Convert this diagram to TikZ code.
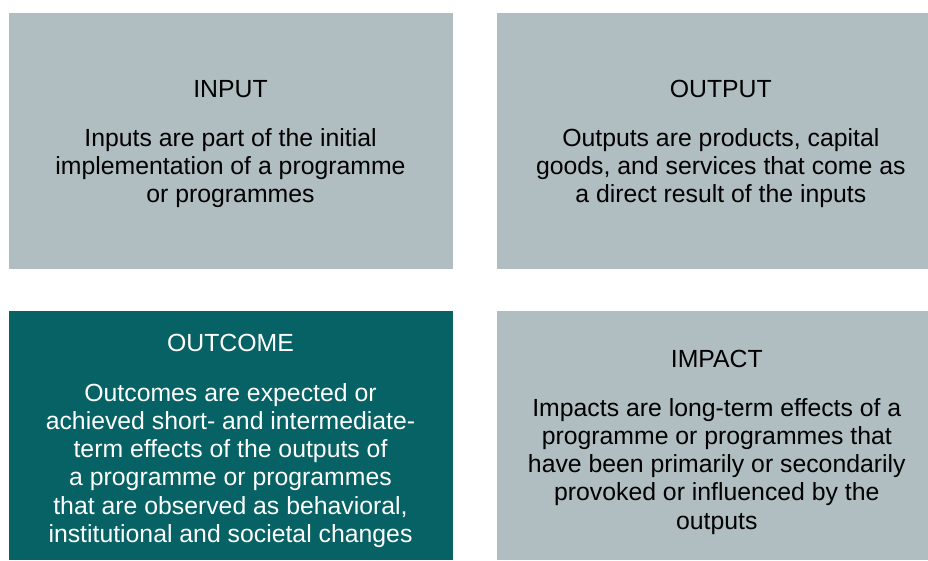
\documentclass[tikz,border=0pt]{standalone}
\usepackage{fontspec}
\setmainfont{Liberation Sans}
\definecolor{boxgray}{RGB}{176,189,193}
\definecolor{boxteal}{RGB}{6,98,100}
\begin{document}
\begin{tikzpicture}[x=1pt,y=-1pt,
  panel/.style={rectangle, draw=none, inner sep=0pt, outer sep=0pt, fill=boxgray},
  title/.style={anchor=base, inner sep=0pt, font=\fontsize{24.8}{28.2}\selectfont},
  body/.style={anchor=north, inner sep=0pt, align=center, font=\fontsize{24.8}{28.2}\selectfont}]
\useasboundingbox (0,0) rectangle (928,560);
% panels
\node[panel, minimum width=444pt, minimum height=256pt] (inbox) at (231,141) {};
\node[panel, minimum width=431pt, minimum height=256pt] (outbox) at (712.5,141) {};
\node[panel, fill=boxteal, minimum width=444pt, minimum height=249pt] (ocbox) at (231,435.5) {};
\node[panel, minimum width=431pt, minimum height=249pt] (imbox) at (712.5,435.5) {};
% INPUT
\node[title] (int) at (230.5,97.8) {INPUT};
\node[body] (inb) at (230.5,126.5) {\strut Inputs are part of the initial\\implementation of a programme\\or programmes};
% OUTPUT
\node[title] (outt) at (720.8,97.3) {OUTPUT};
\node[body] (outb) at (720.8,126.5) {\strut Outputs are products, capital\\goods, and services that come as\\a direct result of the inputs};
% OUTCOME
\node[title, text=white] (oct) at (230.5,351.5) {OUTCOME};
\node[body, text=white] (ocb) at (230.5,381.3) {\strut Outcomes are expected or\\achieved short- and intermediate-\\term effects of the outputs of\\a programme or programmes\\that are observed as behavioral,\\institutional and societal changes};
% IMPACT
\node[title] (imt) at (716.8,367.2) {IMPACT};
\node[body] (imb) at (716.8,396.3) {\strut Impacts are long-term effects of a\\programme or programmes that\\have been primarily or secondarily\\provoked or influenced by the\\outputs};
\end{tikzpicture}
\end{document}
